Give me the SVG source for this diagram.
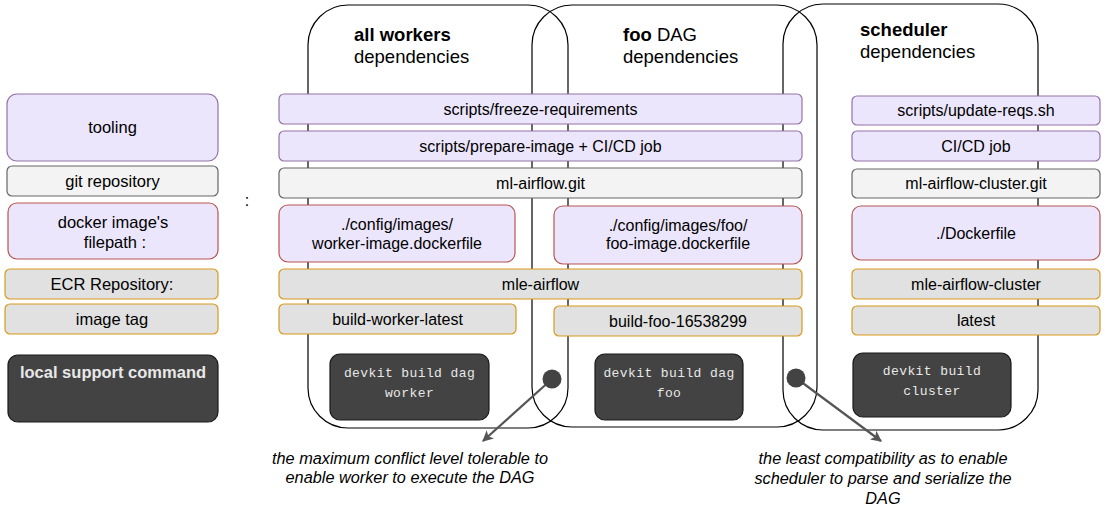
<svg xmlns="http://www.w3.org/2000/svg" width="1109" height="521" viewBox="0 0 1109 521">
<style>
text{font-family:"Liberation Sans",Helvetica,Arial,sans-serif;fill:#000;}
.c{fill:none;stroke:#000;stroke-width:1.2;}
.t{font-size:16px;text-anchor:middle;}
.l{font-size:16.5px;text-anchor:middle;}
.tool{fill:#ECE6FC;stroke:#9673A6;stroke-width:1.2;}
.git{fill:#F3F3F3;stroke:#666;stroke-width:1.2;}
.dock{fill:#ECE6FC;stroke:#B85450;stroke-width:1.2;}
.ecr{fill:#E1E1E1;stroke:#D99A1C;stroke-width:1.2;}
.dark{fill:#434343;stroke:#1a1a1a;stroke-width:1.2;}
.mono{font-family:"Liberation Mono","DejaVu Sans Mono",monospace;font-size:13px;fill:#e8e8e8;text-anchor:middle;letter-spacing:0.4px;}
.title{font-size:18.5px;}
.note{font-size:16.3px;font-style:italic;text-anchor:middle;}
.arr{stroke:#555;stroke-width:2.2;fill:none;}
</style>
<defs>
<marker id="ah" viewBox="0 0 10 10" refX="9" refY="5" markerWidth="5" markerHeight="5" markerUnits="strokeWidth" orient="auto">
<path d="M0,0 L10,5 L0,10 L2.5,5 Z" fill="#555"/>
</marker>
</defs>
<rect width="1109" height="521" fill="#fff"/>

<g id="containers">
<g id="all-workers">
<rect class="c" x="308" y="5" width="260" height="423" rx="40" ry="40"/>
<text class="title" x="354" y="41"><tspan font-weight="bold">all workers</tspan></text>
<text class="title" x="354" y="63">dependencies</text>
</g>
<g id="foo-dag">
<rect class="c" x="532" y="5" width="285" height="422" rx="40" ry="40"/>
<text class="title" x="623" y="41"><tspan font-weight="bold">foo</tspan> DAG</text>
<text class="title" x="623" y="63">dependencies</text>
</g>
<g id="scheduler">
<rect class="c" x="783" y="4" width="255" height="426" rx="40" ry="40"/>
<text class="title" x="860" y="36"><tspan font-weight="bold">scheduler</tspan></text>
<text class="title" x="860" y="58">dependencies</text>
</g>
</g>

<g id="legend">
<g id="tooling"><rect class="tool" x="7" y="94" width="211" height="67" rx="10"/><text class="l" x="112.5" y="133">tooling</text></g>
<g id="git-repository"><rect class="git" x="7" y="166" width="211" height="30" rx="5"/><text class="l" x="112.5" y="187">git repository</text></g>
<g id="docker-filepath"><rect class="dock" x="8" y="203" width="210" height="56" rx="9"/><text class="l" x="113" y="228">docker image's</text><text class="l" x="115" y="248">filepath :</text></g>
<g id="ecr-repository"><rect class="ecr" x="5" y="269" width="213" height="30" rx="5"/><text class="l" x="112" y="290">ECR Repository:</text></g>
<g id="image-tag"><rect class="ecr" x="5" y="304" width="213" height="30" rx="5"/><text class="l" x="112" y="325">image tag</text></g>
<g id="local-support"><rect class="dark" x="8" y="355" width="210" height="67" rx="10"/><text x="113" y="378" font-size="16.5" font-weight="bold" text-anchor="middle" style="fill:#e8e8e8">local support command</text></g>
<text id="colon" x="247" y="206" font-size="16" text-anchor="middle">:</text>
</g>

<g id="shared">
<g id="freeze"><rect class="tool" x="279" y="94" width="523" height="30" rx="5"/><text class="t" x="540.5" y="114.5">scripts/freeze-requirements</text></g>
<g id="prepare"><rect class="tool" x="279" y="131" width="523" height="30" rx="5"/><text class="t" x="540.5" y="151.5">scripts/prepare-image + CI/CD job</text></g>
<g id="ml-airflow-git"><rect class="git" x="279" y="168" width="523" height="30" rx="5"/><text class="t" x="540.5" y="188.5">ml-airflow.git</text></g>
<g id="worker-dockerfile"><rect class="dock" x="279" y="205" width="236" height="57" rx="9"/><text class="t" x="397" y="230">./config/images/</text><text class="t" x="397" y="248.5">worker-image.dockerfile</text></g>
<g id="foo-dockerfile"><rect class="dock" x="554" y="206" width="248" height="58" rx="9"/><text class="t" x="678" y="230.5">./config/images/foo/</text><text class="t" x="678" y="249">foo-image.dockerfile</text></g>
<g id="mle-airflow"><rect class="ecr" x="279" y="269" width="523" height="30" rx="5"/><text class="t" x="540.5" y="289.5">mle-airflow</text></g>
<g id="build-worker"><rect class="ecr" x="279" y="304" width="237" height="30" rx="5"/><text class="t" x="397.5" y="324.5">build-worker-latest</text></g>
<g id="build-foo"><rect class="ecr" x="554" y="306" width="248" height="30" rx="5"/><text class="t" x="678" y="326.5">build-foo-16538299</text></g>
<g id="devkit-worker"><rect class="dark" x="330" y="354" width="159" height="66" rx="10"/><text class="mono" x="409.5" y="377">devkit build dag</text><text class="mono" x="409.5" y="397">worker</text></g>
<g id="devkit-foo"><rect class="dark" x="595" y="354" width="148" height="66" rx="10"/><text class="mono" x="669" y="377">devkit build dag</text><text class="mono" x="669" y="397">foo</text></g>
</g>

<g id="sched-nodes">
<g id="update-reqs"><rect class="tool" x="852" y="96" width="248" height="29" rx="5"/><text class="t" x="976" y="116">scripts/update-reqs.sh</text></g>
<g id="cicd"><rect class="tool" x="852" y="131" width="248" height="30" rx="5"/><text class="t" x="976" y="151.5">CI/CD job</text></g>
<g id="cluster-git"><rect class="git" x="852" y="169" width="248" height="29" rx="5"/><text class="t" x="976" y="189">ml-airflow-cluster.git</text></g>
<g id="dockerfile"><rect class="dock" x="852" y="206" width="248" height="54" rx="9"/><text class="t" x="976" y="238.5">./Dockerfile</text></g>
<g id="mle-airflow-cluster"><rect class="ecr" x="852" y="269" width="248" height="30" rx="5"/><text class="t" x="976" y="289.5">mle-airflow-cluster</text></g>
<g id="latest"><rect class="ecr" x="852" y="306" width="248" height="29" rx="5"/><text class="t" x="976" y="326">latest</text></g>
<g id="devkit-cluster"><rect class="dark" x="853" y="353" width="158" height="64" rx="10"/><text class="mono" x="932" y="375">devkit build</text><text class="mono" x="932" y="395">cluster</text></g>
</g>

<g id="connectors">
<line class="arr" x1="552" y1="379" x2="483" y2="441" marker-end="url(#ah)"/>
<line class="arr" x1="796" y1="378" x2="881" y2="441" marker-end="url(#ah)"/>
<circle cx="552" cy="379" r="9.5" fill="#434343"/>
<circle cx="796" cy="378" r="9.5" fill="#434343"/>
</g>

<g id="notes">
<text class="note" x="410" y="464">the maximum conflict level tolerable to</text>
<text class="note" x="410" y="483">enable worker to execute the DAG</text>
<text class="note" x="883" y="464">the least compatibility as to enable</text>
<text class="note" x="883" y="484">scheduler to parse and serialize the</text>
<text class="note" x="883" y="504">DAG</text>
</g>
</svg>
